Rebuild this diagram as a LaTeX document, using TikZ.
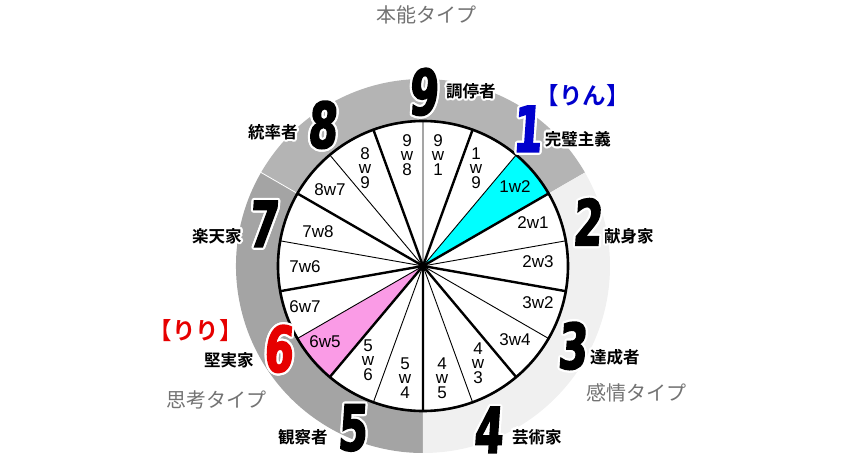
\documentclass[tikz,border=0pt]{standalone}
\usepackage{fontspec}
\usepackage{contour}
\setmainfont{Liberation Sans}
\newfontfamily\numfont[FakeStretch=0.66,FakeSlant=0.07,FakeBold=2.5]{DejaVu Sans Bold}
\newfontfamily\jpfont{Noto Sans CJK JP}
\newfontfamily\jpbold{Noto Sans CJK JP Bold}
\contourlength{2.2pt}
\contournumber{16}
\newcommand{\halo}[1]{\contour{white}{#1}}
\definecolor{ringtop}{RGB}{180,180,180}
\definecolor{ringleft}{RGB}{164,164,164}
\definecolor{ringright}{RGB}{240,240,240}
\definecolor{wingcyan}{RGB}{0,255,255}
\definecolor{wingpink}{RGB}{250,155,230}
\definecolor{rinblue}{RGB}{0,0,205}
\definecolor{ririred}{RGB}{230,0,0}
\definecolor{triadgray}{RGB}{115,115,115}
\begin{document}
\begin{tikzpicture}[
        x=1pt, y=1pt,
        spoke/.style = {line width=2.4pt}, % タイプの境界
        fine/.style = {line width=0.9pt}, % ウイングの境界
        wing/.style = {font=\fontsize{17}{14.5}\selectfont, inner sep=0pt, align=center},
        num/.style = {font=\numfont\fontsize{63}{63}\selectfont, inner sep=0pt}, % 大きい数字
        kind/.style = {font=\jpbold\fontsize{16.5}{16.5}\selectfont, inner sep=0pt},
        triad/.style = {font=\jpfont\fontsize{20}{20}\selectfont, text=triadgray, inner sep=0pt},
        nick/.style = {font=\jpbold\fontsize{23.5}{23.5}\selectfont, inner sep=0pt},
    ]
    \useasboundingbox (-423,-205) rectangle (424,266);

    % 外側のリング
    \fill[ringtop] (0,0) -- (30:187) arc[start angle=30, end angle=150, radius=187] -- cycle;
    \fill[ringleft] (0,0) -- (150:187) arc[start angle=150, end angle=270, radius=187] -- cycle;
    \fill[ringright] (0,0) -- (270:187) arc[start angle=270, end angle=390, radius=187] -- cycle;
    \draw[white, line width=0.8pt] (150:145) -- (150:187);

    % 内側の円
    \fill[white] (0,0) circle[radius=145];
    \fill[wingcyan] (0,0) -- (30:145) arc[start angle=30, end angle=50, radius=145] -- cycle;
    \fill[wingpink] (0,0) -- (210:145) arc[start angle=210, end angle=230, radius=145] -- cycle;
    \draw[fine] (0,0) -- (10:145) (0,0) -- (50:145) (0,0) -- (90:145)
        (0,0) -- (130:145) (0,0) -- (170:145) (0,0) -- (210:145)
        (0,0) -- (250:145) (0,0) -- (290:145) (0,0) -- (330:145);
    \draw[spoke] (0,0) -- (30:145) (0,0) -- (70:145) (0,0) -- (110:145)
        (0,0) -- (150:145) (0,0) -- (190:145) (0,0) -- (230:145)
        (0,0) -- (270:145) (0,0) -- (310:145) (0,0) -- (350:145);
    \draw[line width=2.6pt] (0,0) circle[radius=145];

    % ウイング
    \node[wing] (w98) at (-16,111) {9\\w\\8};
    \node[wing] (w91) at (15,111) {9\\w\\1};
    \node[wing] (w89) at (-58,98) {8\\w\\9};
    \node[wing] (w19) at (53,98) {1\\w\\9};
    \node[wing] (w87) at (-93,76) {8w7};
    \node[wing] (w12) at (92,79) {1w2};
    \node[wing] (w78) at (-105,34) {7w8};
    \node[wing] (w21) at (110,43) {2w1};
    \node[wing] (w76) at (-118,-1) {7w6};
    \node[wing] (w23) at (115,4) {2w3};
    \node[wing] (w67) at (-118,-41) {6w7};
    \node[wing] (w32) at (115,-37) {3w2};
    \node[wing] (w65) at (-98,-76) {6w5};
    \node[wing] (w34) at (92,-74) {3w4};
    \node[wing] (w56) at (-55,-94) {5\\w\\6};
    \node[wing] (w43) at (55,-97) {4\\w\\3};
    \node[wing] (w54) at (-18,-112) {5\\w\\4};
    \node[wing] (w45) at (19,-112) {4\\w\\5};

    % タイプの番号
    \node[num] (n9) at (0,173) {\halo{9}};
    \node[num] (n8) at (-101,140) {\halo{8}};
    \node[num, text=rinblue] (n1) at (104,136) {\halo{1}};
    \node[num] (n2) at (164,43) {\halo{2}};
    \node[num] (n7) at (-160,41) {\halo{7}};
    \node[num] (n3) at (149,-81) {\halo{3}};
    \node[num, text=ririred] (n6) at (-145,-84) {\halo{6}};
    \node[num] (n5) at (-71,-163) {\halo{5}};
    \node[num] (n4) at (65,-165) {\halo{4}};

    % タイプの名前
    \node[kind] (t9) at (48,174) {\halo{調停者}};
    \node[kind] (t8) at (-150,133) {\halo{統率者}};
    \node[kind] (t1) at (155,126) {\halo{完璧主義}};
    \node[kind] (t2) at (206,29) {\halo{献身家}};
    \node[kind] (t7) at (-206,29) {\halo{楽天家}};
    \node[kind] (t3) at (192,-92) {\halo{達成者}};
    \node[kind] (t6) at (-194,-95) {\halo{堅実家}};
    \node[kind] (t5) at (-120,-172) {\halo{観察者}};
    \node[kind] (t4) at (114,-172) {\halo{芸術家}};

    % 三つのタイプ
    \node[triad] (instinct) at (4,251) {本能タイプ};
    \node[triad] (thinking) at (-206,-134) {思考タイプ};
    \node[triad] (feeling) at (214,-127) {感情タイプ};

    \node[nick, text=rinblue] (rin) at (160,170) {【りん】};
    \node[nick, text=ririred] (riri) at (-227,-65) {【りり】};
\end{tikzpicture}
\end{document}
